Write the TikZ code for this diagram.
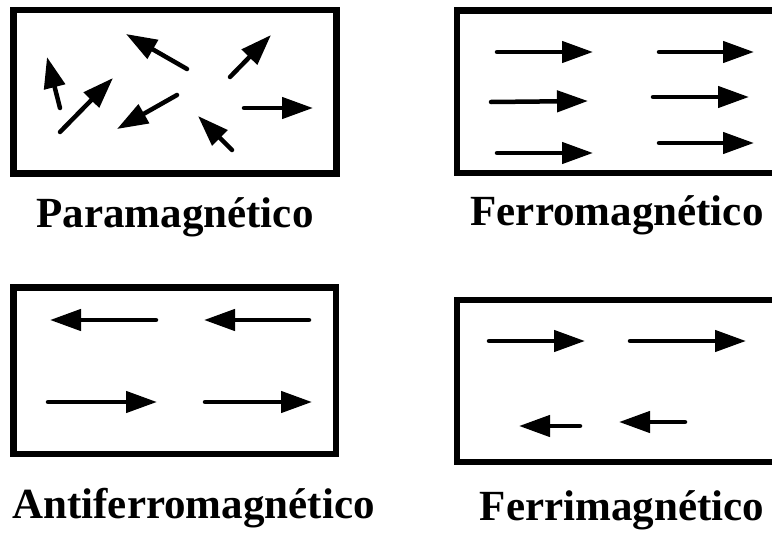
\documentclass[tikz,border=0pt]{standalone}
\usepackage{fontspec}
\setmainfont{Liberation Serif}
\usetikzlibrary{arrows.meta}
\begin{document}
\begin{tikzpicture}[x=1pt,y=-1pt,
  frame/.style={line width=6.5pt,line join=miter},
  spin/.style={line width=4.5pt,line cap=round,-{Triangle[length=31pt,width=21pt]}},
  lbl/.style={anchor=base,font=\fontsize{43}{50}\selectfont\bfseries,inner sep=0pt}]
\useasboundingbox (0,0) rectangle (772,533);
\clip (0,0) rectangle (772,533);
% boxes
\draw[frame] (13.5,10) rectangle (336.5,173.5);
\draw[frame] (800,10.5) -- (457,10.5) -- (457,173) -- (800,173);
\draw[frame] (13.5,287.5) rectangle (336,454);
\draw[frame] (800,300) -- (457,300) -- (457,462) -- (800,462);
% paramagnetic
\coordinate (pAt) at (60,108);  \coordinate (pAh) at (47,57);
\coordinate (pBt) at (60,132);  \coordinate (pBh) at (113,78);
\coordinate (pCt) at (187,69);  \coordinate (pCh) at (126,34);
\coordinate (pDt) at (230,77);  \coordinate (pDh) at (271,35);
\coordinate (pEt) at (177,95);  \coordinate (pEh) at (117,129);
\coordinate (pFt) at (232,150); \coordinate (pFh) at (198,116);
\coordinate (pGt) at (244,108); \coordinate (pGh) at (313,108);
\foreach \a in {A,B,C,D,E,F,G} \draw[spin] (p\a t) -- (p\a h);
% ferromagnetic
\coordinate (f1t) at (497,52);  \coordinate (f1h) at (593,52);
\coordinate (f2t) at (659,52);  \coordinate (f2h) at (754,52);
\coordinate (f3t) at (491,102); \coordinate (f3h) at (588,101);
\coordinate (f4t) at (653,97);  \coordinate (f4h) at (749,97);
\coordinate (f5t) at (497,153); \coordinate (f5h) at (593,153);
\coordinate (f6t) at (659,143); \coordinate (f6h) at (754,143);
\foreach \a in {1,...,6} \draw[spin] (f\a t) -- (f\a h);
% antiferromagnetic
\coordinate (a1t) at (156,320); \coordinate (a1h) at (50,320);
\coordinate (a2t) at (309,320); \coordinate (a2h) at (204,320);
\coordinate (a3t) at (48,402);  \coordinate (a3h) at (157,402);
\coordinate (a4t) at (205,402); \coordinate (a4h) at (312,402);
\foreach \a in {1,...,4} \draw[spin] (a\a t) -- (a\a h);
% ferrimagnetic
\coordinate (r1t) at (489,341); \coordinate (r1h) at (585,341);
\coordinate (r2t) at (630,341); \coordinate (r2h) at (746,341);
\coordinate (r3t) at (580,426); \coordinate (r3h) at (519,426);
\coordinate (r4t) at (685,422); \coordinate (r4h) at (619,422);
\foreach \a in {1,...,4} \draw[spin] (r\a t) -- (r\a h);
% labels
\node[lbl] (para) at (175,227) {Paramagnético};
\node[lbl] (ferro) at (617,225) {Ferromagnético};
\node[lbl] (anti) at (193.5,518) {Antiferromagnético};
\node[lbl] (ferri) at (622,520) {Ferrimagnético};
\end{tikzpicture}
\end{document}
